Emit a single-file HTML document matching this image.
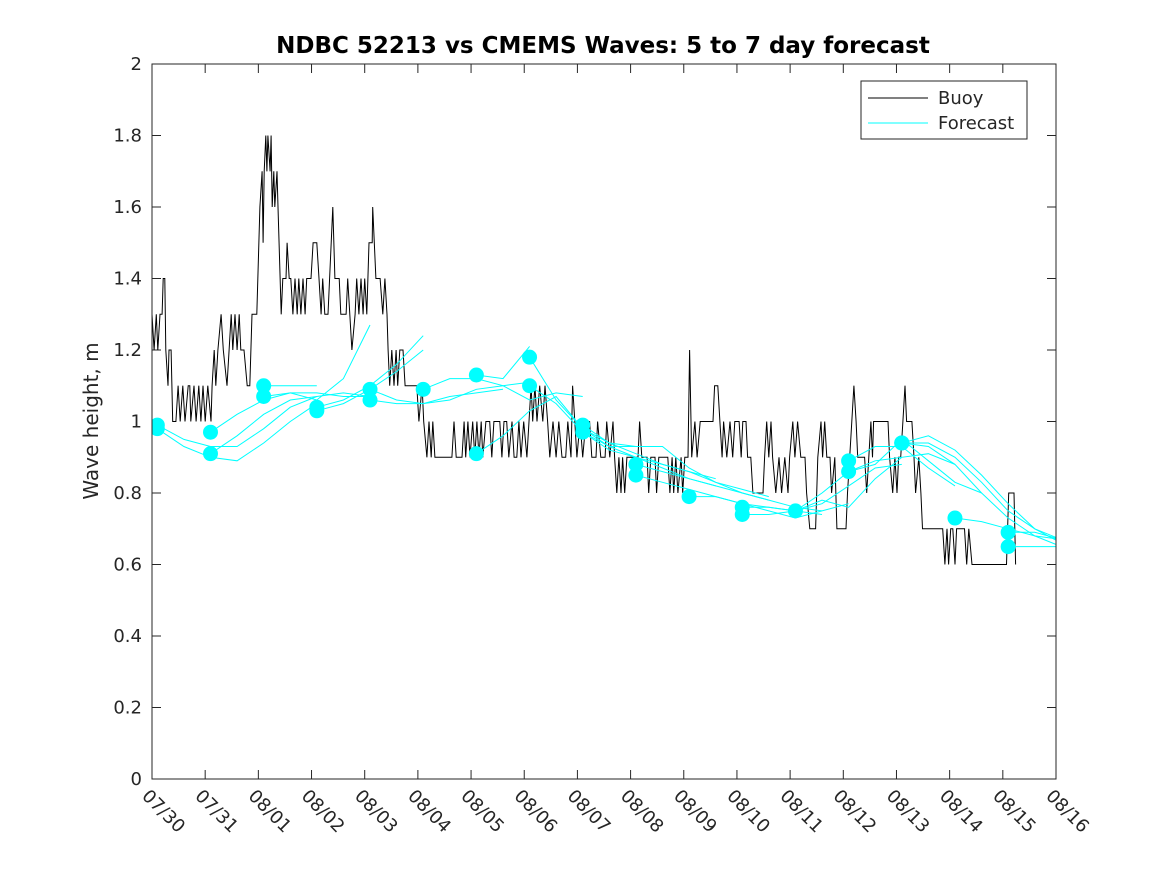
<!DOCTYPE html>
<html><head><meta charset="utf-8"><style>
body{margin:0;background:#fff;}
svg text{font-family:"DejaVu Sans","Liberation Sans",sans-serif;fill:#262626;}
</style></head><body>
<svg id="chart" width="1167" height="875" xmlns="http://www.w3.org/2000/svg">
<defs><clipPath id="plotclip"><rect x="152" y="64" width="904" height="715"/></clipPath></defs>
<rect x="0" y="0" width="1167" height="875" fill="#fff"/>
<text x="603" y="53" text-anchor="middle" font-size="23" font-weight="bold" style="fill:#000">NDBC 52213 vs CMEMS Waves: 5 to 7 day forecast</text>
<text transform="translate(98,421) rotate(-90)" text-anchor="middle" font-size="20">Wave height, m</text>
<g id="grid"></g>
<g id="series" clip-path="url(#plotclip)"></g>
<rect x="152" y="64" width="904" height="715" fill="none" stroke="#262626" stroke-width="1"/>
<g>
<rect x="861" y="81" width="166" height="58" fill="#fff" stroke="#262626"/>
<line x1="868" y1="98" x2="928" y2="98" stroke="#000"/>
<text x="938" y="104" font-size="18">Buoy</text>
<line x1="868" y1="123" x2="928" y2="123" stroke="#00ffff"/>
<text x="938" y="129" font-size="18">Forecast</text>
</g>
</svg>
<script>
const xTickLabels=["07/30","07/31","08/01","08/02","08/03","08/04","08/05","08/06","08/07","08/08","08/09","08/10","08/11","08/12","08/13","08/14","08/15","08/16"];
const yTicks=[0,0.2,0.4,0.6,0.8,1,1.2,1.4,1.6,1.8,2];
const buoyDays=[0,.04,.08,.11,.15,.19,.21,.24,.26,.30,.32,.36,.39,.45,.49,.53,.58,.62,.68,.71,.73,.79,.83,.88,.92,.96,1.00,1.05,1.11,1.13,1.17,1.20,1.24,1.30,1.34,1.41,1.45,1.49,1.52,1.56,1.60,1.64,1.67,1.73,1.79,1.84,1.88,1.97,2.03,2.07,2.09,2.11,2.14,2.16,2.18,2.22,2.24,2.26,2.29,2.31,2.35,2.37,2.43,2.46,2.52,2.54,2.58,2.61,2.65,2.69,2.73,2.76,2.80,2.84,2.88,2.91,2.99,3.03,3.10,3.14,3.18,3.21,3.25,3.31,3.40,3.44,3.52,3.55,3.65,3.68,3.72,3.76,3.82,3.85,3.89,3.93,3.97,4.00,4.04,4.08,4.14,4.15,4.21,4.29,4.34,4.38,4.42,4.44,4.47,4.51,4.55,4.59,4.62,4.66,4.72,4.76,4.98,5.02,5.08,5.11,5.17,5.21,5.25,5.28,5.32,5.64,5.68,5.72,5.83,5.87,5.90,5.94,5.98,6.03,6.07,6.11,6.15,6.19,6.22,6.28,6.35,6.39,6.43,6.54,6.58,6.62,6.67,6.71,6.77,6.81,6.86,6.90,6.94,6.99,7.05,7.09,7.13,7.16,7.20,7.24,7.29,7.35,7.39,7.44,7.48,7.54,7.60,7.65,7.71,7.78,7.82,7.88,7.91,7.95,7.99,8.05,8.10,8.16,8.23,8.27,8.35,8.38,8.44,8.52,8.55,8.61,8.67,8.70,8.74,8.78,8.82,8.85,8.89,8.93,9.14,9.17,9.21,9.31,9.34,9.38,9.46,9.49,9.53,9.70,9.74,9.78,9.81,9.85,9.89,9.95,9.98,10.02,10.08,10.11,10.15,10.21,10.25,10.31,10.36,10.55,10.58,10.64,10.68,10.72,10.75,10.81,10.87,10.92,10.96,11.04,11.08,11.11,11.17,11.20,11.26,11.30,11.49,11.52,11.56,11.60,11.64,11.67,11.73,11.79,11.84,11.90,11.96,11.99,12.05,12.09,12.14,12.20,12.28,12.31,12.37,12.48,12.52,12.58,12.61,12.65,12.69,12.75,12.78,12.84,12.88,13.05,13.08,13.12,13.16,13.20,13.24,13.27,13.40,13.44,13.48,13.52,13.55,13.57,13.84,13.87,13.93,13.97,14.01,14.04,14.08,14.12,14.16,14.19,14.29,14.33,14.36,14.42,14.46,14.49,14.87,14.91,14.95,14.98,15.02,15.06,15.10,15.13,15.28,15.32,15.36,15.42,16.07,16.11,16.21,16.24];
const buoyValues=[1.3,1.2,1.3,1.2,1.3,1.3,1.4,1.4,1.2,1.1,1.2,1.2,1.0,1.0,1.1,1.0,1.1,1.0,1.1,1.1,1.0,1.1,1.0,1.1,1.0,1.1,1.0,1.1,1.0,1.1,1.2,1.1,1.2,1.3,1.2,1.1,1.2,1.3,1.2,1.3,1.2,1.3,1.2,1.2,1.1,1.1,1.3,1.3,1.6,1.7,1.5,1.7,1.8,1.7,1.8,1.7,1.8,1.6,1.7,1.6,1.7,1.6,1.3,1.4,1.4,1.5,1.4,1.4,1.3,1.4,1.3,1.4,1.3,1.4,1.3,1.4,1.4,1.5,1.5,1.4,1.3,1.4,1.3,1.3,1.6,1.4,1.4,1.3,1.3,1.4,1.3,1.2,1.3,1.4,1.3,1.4,1.3,1.4,1.3,1.5,1.5,1.6,1.4,1.4,1.3,1.4,1.3,1.2,1.1,1.2,1.1,1.2,1.1,1.2,1.2,1.1,1.1,1.0,1.1,1.0,0.9,1.0,0.9,1.0,0.9,0.9,1.0,0.9,0.9,1.0,0.9,1.0,0.9,1.0,0.9,1.0,0.9,1.0,0.9,1.0,1.0,0.9,1.0,1.0,0.9,1.0,1.0,0.9,1.0,0.9,0.9,1.0,0.9,1.0,0.9,1.0,1.1,1.0,1.1,1.0,1.1,1.0,1.1,1.0,0.9,1.0,0.9,1.0,0.9,0.9,1.0,0.9,1.1,1.0,0.9,1.0,0.9,1.0,1.0,0.9,0.9,1.0,0.9,0.9,1.0,0.9,1.0,0.9,0.8,0.9,0.8,0.9,0.8,0.9,0.9,1.0,0.9,0.9,0.8,0.9,0.9,0.8,0.9,0.9,0.8,0.9,0.8,0.9,0.8,0.9,0.8,0.9,0.9,1.2,0.9,1.0,0.9,1.0,1.0,1.0,1.1,1.1,1.0,0.9,1.0,0.9,1.0,0.9,1.0,1.0,0.9,1.0,1.0,0.9,0.9,0.8,0.8,0.9,1.0,0.9,1.0,0.9,0.8,0.9,0.8,0.9,0.8,0.9,1.0,0.9,1.0,0.9,0.9,0.8,0.7,0.7,0.9,1.0,0.9,1.0,0.9,0.9,0.8,0.9,0.7,0.7,0.8,0.9,1.0,1.1,1.0,0.9,0.9,0.8,0.9,1.0,0.9,1.0,1.0,0.9,0.8,0.9,0.8,0.9,0.9,1.0,1.1,1.0,1.0,0.9,0.8,0.9,0.8,0.7,0.7,0.6,0.7,0.6,0.7,0.7,0.6,0.7,0.7,0.6,0.7,0.6,0.6,0.8,0.8,0.6];
const forecastStep=0.5;
const forecastStarts=[0.1,0.1,1.1,1.1,2.1,2.1,3.1,3.1,4.1,4.1,5.1,6.1,6.1,7.1,7.1,8.1,8.1,9.1,9.1,10.1,11.1,11.1,12.1,13.1,13.1,14.1,14.1,14.1,15.1,16.1,16.1];
const forecastRuns=[
[0.99,0.95,0.93,0.93,0.98,1.04,1.07],
[0.98,0.93,0.90,0.89,0.94,1.00,1.05],
[0.97,1.02,1.06,1.08,1.08,1.07,1.07],
[0.91,0.96,1.02,1.06,1.07,1.08,1.07],
[1.10,1.10,1.10],
[1.07,1.08,1.06,1.12,1.27],
[1.04,1.06,1.10,1.16,1.24],
[1.03,1.05,1.09,1.14,1.20],
[1.09,1.06,1.05,1.06,1.09,1.10,1.11],
[1.06,1.05,1.05,1.07,1.08,1.09],
[1.09,1.12,1.12,1.10,1.06,1.08,1.07],
[1.13,1.12,1.21],
[0.91,0.96,1.03,1.07,0.98,0.94,0.93],
[1.18,1.06,0.98,0.93,0.90,0.87,0.84,0.82],
[1.10,1.05,0.97,0.92,0.90,0.88,0.86,0.84],
[0.99,0.94,0.91,0.88,0.86,0.83,0.81,0.79],
[0.97,0.93,0.93,0.93,0.87,0.83,0.80,0.78],
[0.88,0.86,0.84,0.82,0.80,0.78,0.76,0.75],
[0.85,0.83,0.81,0.79,0.77,0.76,0.75,0.74],
[0.79,0.79,0.77,0.75,0.73,0.75,0.77],
[0.76,0.76,0.75,0.77,0.82,0.87,0.88],
[0.74,0.74,0.75,0.80,0.86,0.89,0.90],
[0.75,0.78,0.76,0.84,0.90,0.91,0.88],
[0.89,0.93,0.93,0.87,0.82],
[0.86,0.88,0.95,0.89,0.83,0.80],
[0.94,0.93,0.88,0.80,0.73,0.68,0.65,0.64],
[0.94,0.94,0.90,0.83,0.75,0.70,0.66,0.65],
[0.94,0.96,0.92,0.85,0.77,0.70,0.67,0.66],
[0.73,0.72,0.70,0.68,0.67,0.67,0.66],
[0.69,0.69,0.67,0.71],
[0.65,0.65,0.65,0.64]];

const X0=152,X1=1056,Y0=779,Y1=64,DAYS=17;
function xs(d){return X0+(X1-X0)*d/DAYS;}
function ys(v){return Y0-(Y0-Y1)*v/2;}
const NS="http://www.w3.org/2000/svg";
const grid=document.getElementById('grid'),series=document.getElementById('series');
function mk(tag,attrs,parent){const e=document.createElementNS(NS,tag);for(const k in attrs)e.setAttribute(k,attrs[k]);parent.appendChild(e);return e;}
yTicks.forEach(v=>{
  const y=ys(v);
  const t=mk('line',{x1:X0,x2:X0+9,y1:y,y2:y,stroke:'#262626'},grid);
  
  
  const t2=mk('line',{x1:X1-9,x2:X1,y1:y,y2:y,stroke:'#262626'},grid);
  
  
  const l=mk('text',{x:X0-10,y:y+6,'text-anchor':'end','font-size':'18'},grid);
  l.textContent=(v===0||v===1||v===2)?String(v):v.toFixed(1);
  
  
});
xTickLabels.forEach((s,i)=>{
  const x=xs(i);
  const t=mk('line',{x1:x,x2:x,y1:Y0,y2:Y0-9,stroke:'#262626'},grid);
  
  
  const t2=mk('line',{x1:x,x2:x,y1:Y1,y2:Y1+9,stroke:'#262626'},grid);
  
  
  const l=mk('text',{transform:`translate(${x-11},${797}) rotate(45)`,'font-size':'18'},grid);
  l.textContent=s;
  
  
});
const bpts=buoyValues.map((v,i)=>`${xs(buoyDays[i]).toFixed(1)},${ys(v).toFixed(1)}`).join(' ');
const bp=mk('polyline',{points:bpts,fill:'none',stroke:'#000','stroke-width':'1'},series);


forecastRuns.forEach((run,r)=>{
  const s=forecastStarts[r];
  const pts=run.map((v,i)=>`${xs(s+i*forecastStep).toFixed(1)},${ys(v).toFixed(1)}`).join(' ');
  const pl=mk('polyline',{points:pts,fill:'none',stroke:'#00ffff','stroke-width':'1'},series);
  
  
});
forecastRuns.forEach((run,r)=>{
  const c=mk('circle',{cx:xs(forecastStarts[r]),cy:ys(run[0]),r:7.5,fill:'#00ffff'},series);
  
  
});
</script>
</body></html>
